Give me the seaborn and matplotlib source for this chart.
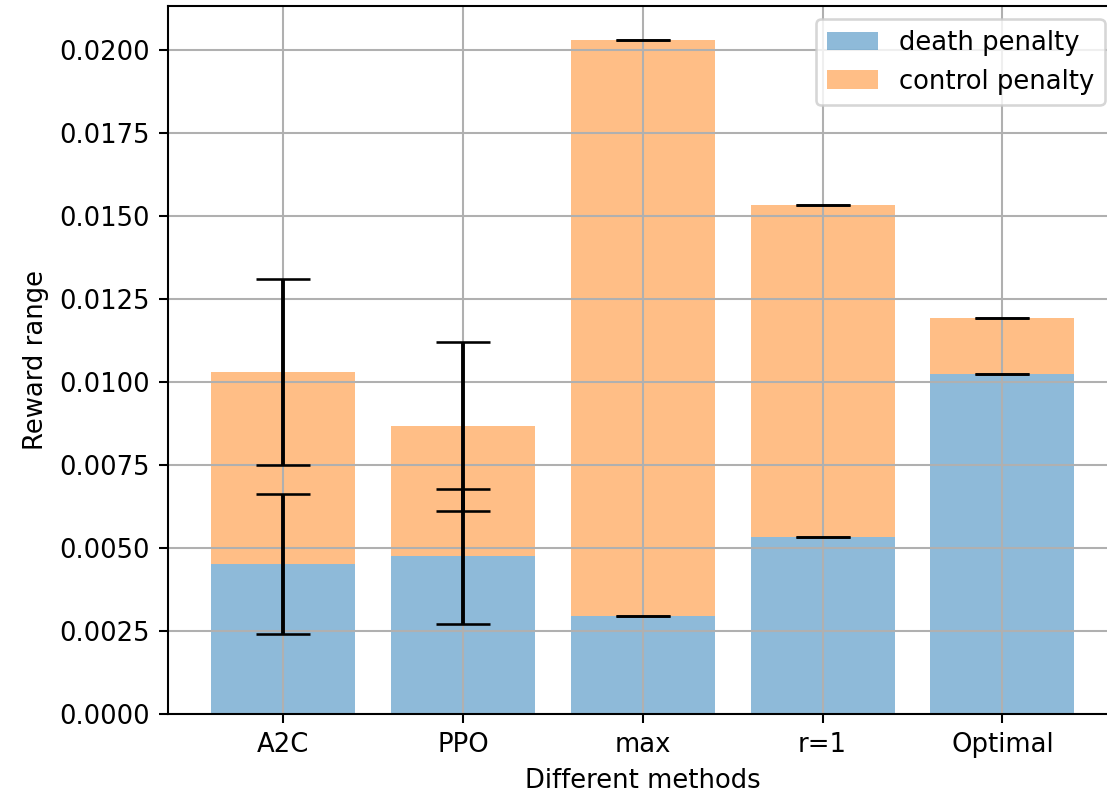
import numpy as np
import pandas as pd
import matplotlib
matplotlib.use("Agg")
import matplotlib.pyplot as plt
import seaborn as sns

methods = ["A2C", "PPO", "max", "r=1", "Optimal"]
death_penalty = [0.00452, 0.00475, 0.00295, 0.00532, 0.01023]
control_penalty = [0.00577, 0.00391, 0.01735, 0.01002, 0.00171]
death_err = [0.00211, 0.00203, 0.0, 0.0, 0.0]
control_err = [0.00280, 0.00254, 0.0, 0.0, 0.0]

df = pd.DataFrame({"method": methods, "death": death_penalty, "control": control_penalty})
totals = [d + c for d, c in zip(death_penalty, control_penalty)]

DPI = 186
fig, ax = plt.subplots(figsize=(1107 / DPI, 793 / DPI), dpi=DPI)
fig.subplots_adjust(left=0.1518, right=1.0095, top=0.992, bottom=0.0996)

sns.barplot(data=df, x="method", y="death", color="C0", alpha=0.5, saturation=1,
            width=0.8, errorbar=None, linewidth=0, label="death penalty", ax=ax)
sns.barplot(data=df, x="method", y="control", bottom=death_penalty, color="C1", alpha=0.5,
            saturation=1, width=0.8, errorbar=None, linewidth=0, label="control penalty", ax=ax)

pos = np.arange(len(methods))
ax.errorbar(pos, death_penalty, yerr=death_err, fmt="none", ecolor="black", capsize=10.5)
ax.errorbar(pos, totals, yerr=control_err, fmt="none", ecolor="black", capsize=10.5)

ax.set_xlim(-0.64, len(methods) - 1 + 0.64)
ax.set_ylim(0, max(totals) * 1.05)
ax.grid(True)
ax.set_xlabel("Different methods")
ax.set_ylabel("Reward range")
ax.legend(loc="upper right")

fig.savefig("out.png", dpi=DPI)
